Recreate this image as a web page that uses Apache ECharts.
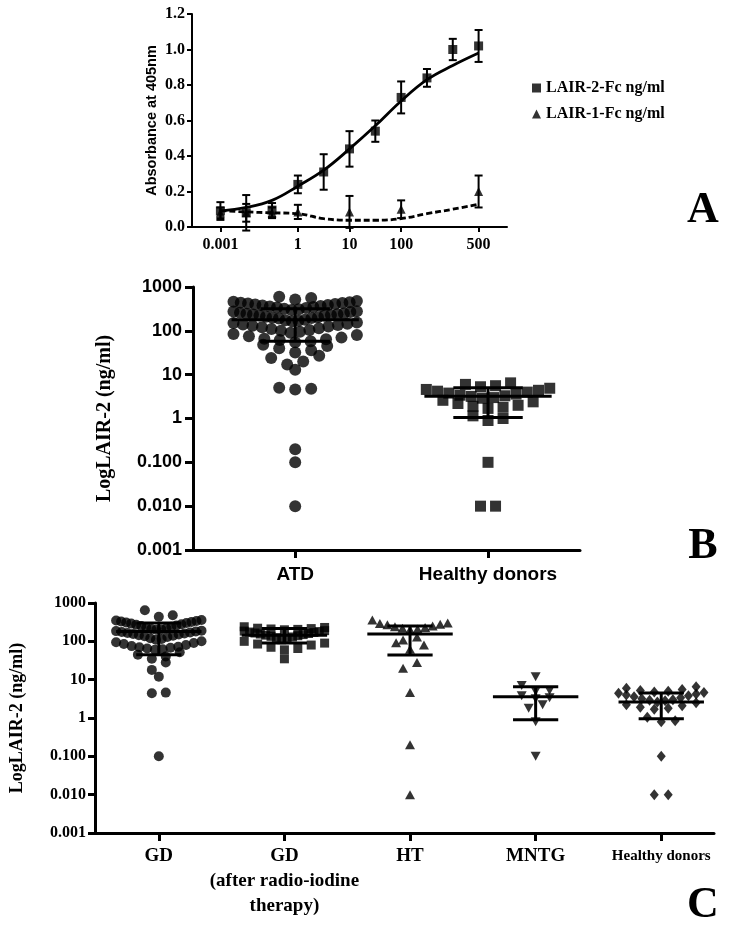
<!DOCTYPE html>
<html><head><meta charset="utf-8">
<script src="https://cdn.jsdelivr.net/npm/echarts@6/dist/echarts.min.js"></script>
<style>html,body{margin:0;padding:0;background:#fff}#c{width:738px;height:929px}</style>
</head><body><div id="c"></div>
<script>
// ---------- Panel A data ----------
const doseTickPos = [0, 3, 5, 7, 10];
const doseTickLabels = ['0.001', '1', '10', '100', '500'];
const lair2Mean = [0.09, 0.08, 0.095, 0.24, 0.31, 0.44, 0.54, 0.73, 0.84, 1.00, 1.02];
const lair2Err  = [0.05, 0.10, 0.04, 0.05, 0.10, 0.10, 0.06, 0.09, 0.05, 0.06, 0.09];
const lair2Fit  = [0.09, 0.11, 0.15, 0.23, 0.32, 0.44, 0.57, 0.71, 0.83, 0.91, 0.98];
const lair1Mean = [0.08, 0.08, 0.08, 0.085, null, 0.085, null, 0.10, null, null, 0.20];
const lair1Err  = [0.03, 0.05, 0.03, 0.04, null, 0.09, null, 0.05, null, null, 0.09];
const lair1Fit  = [0.092, 0.085, 0.08, 0.075, 0.047, 0.038, 0.038, 0.047, 0.075, 0.10, 0.128];
const legendNames = ['LAIR-2-Fc ng/ml', 'LAIR-1-Fc ng/ml'];

// ---------- Panel B data ----------
const logTickLabels = ['0.001', '0.010', '0.100', '1', '10', '100', '1000'];
const bCategories = ['ATD', 'Healthy donors'];
const bATD = [600, 560, 520,
  480, 460, 450, 440, 430, 420, 410, 400, 390, 380, 370, 360, 350, 340, 330, 320, 310, 300,
  280, 275, 270, 260, 250, 245, 240, 235, 230, 225, 220, 210, 205, 200, 195, 190, 180, 175, 170, 165,
  155, 150, 145, 140, 135, 130, 125, 120, 115, 110, 105, 100, 95, 90,
  85, 80, 75, 70, 66, 64, 62, 58, 55,
  48, 45, 40, 36, 32,
  27, 24, 20, 17,
  13, 5.0, 4.8, 4.6, 0.2, 0.1, 0.01];
const bHealthy = [6.5, 6.0, 5.6, 5.3,
  4.9, 4.6, 4.4, 4.2, 4.0, 3.8, 3.6, 3.4, 3.3, 3.2, 3.0, 2.9,
  2.6, 2.4, 2.2, 2.0, 1.9, 1.8, 1.7,
  1.15, 1.0, 0.9, 0.1, 0.01, 0.01];
const bMean  = [180, 3.2];
const bUpper = [320, 5.0];
const bLower = [58, 1.05];

// ---------- Panel C data ----------
const cCategories = ['GD', 'GD\n(after radio-iodine\ntherapy)', 'HT', 'MNTG', 'Healthy donors'];
const cGD = [650, 480, 440,
  360, 350, 340, 330, 320, 310, 300, 290, 280, 270, 260, 250, 240, 230, 220, 210, 205, 200,
  190, 185, 180, 175, 170, 165, 160, 155, 150, 145, 140, 135, 130, 120, 115, 110,
  100, 95, 90, 85, 80, 75, 72, 70, 68, 65, 62, 60,
  52, 45, 40, 35, 28, 18, 12, 4.6, 4.4, 0.1];
const cGDafter = [240, 230, 220, 215, 210, 205, 200,
  190, 185, 180, 175, 170, 165, 160, 155, 150, 145, 140, 135, 130, 125, 120, 110,
  100, 90, 85, 80, 70, 65, 60, 35];
const cHT = [360, 300, 290, 280, 270, 250, 240, 230, 220, 210, 200,
  130, 108, 92, 80, 62, 28, 20, 4.6, 0.2, 0.01];
const cMNTG = [12, 7, 5.2, 5.0, 3.8, 3.4, 3.2, 2.2, 1.8, 0.8, 0.1];
const cHealthy = [6.5, 6.0, 5.5, 5.2, 5.0, 4.8,
  4.6, 4.4, 4.2, 4.0, 3.8, 3.6, 3.4, 3.2, 3.0, 2.9, 2.8, 2.6,
  2.5, 2.2, 2.1, 1.9, 1.8, 1.7, 1.05, 0.85, 0.8, 0.1, 0.01, 0.01];
const cMean  = [180, 145, 155, 3.6, 2.6];
const cUpper = [300, 215, 250, 6.5, 4.5];
const cLower = [45, 90, 44, 0.9, 0.95];

// ---------- helpers ----------
const serif = '"Liberation Serif", "DejaVu Serif", serif';
const sans = '"Liberation Sans", Arial, sans-serif';
const K = '#000';

// Column-scatter layout: values whose log falls in one row band are spread sideways,
// lowest in the middle; spacing shrinks when the row gets too wide.
function swarm(values, center, binDec, binOff, stepMax, halfMax) {
  const bins = {};
  values.forEach(v => {
    const l = Math.log10(v);
    const k = Math.floor((l - binOff) / binDec + 1e-9);
    (bins[k] = bins[k] || []).push(l);
  });
  const out = [];
  Object.keys(bins).forEach(k => {
    const arr = bins[k].sort((a, b) => a - b);
    const n = arr.length;
    const step = n > 1 ? Math.min(stepMax, 2 * halfMax / (n - 1)) : 0;
    arr.forEach((l, i) => {
      let off;
      if (n % 2 === 1) off = i === 0 ? 0 : (i % 2 ? 1 : -1) * Math.ceil(i / 2);
      else off = (i % 2 ? 1 : -1) * (Math.floor(i / 2) + 0.5);
      out.push([center + off * step, l]);
    });
  });
  return out;
}

function seg(api, a, b, lw) {
  const p1 = api.coord(a), p2 = api.coord(b);
  return { type: 'line', shape: { x1: p1[0], y1: p1[1], x2: p2[0], y2: p2[1] }, style: { stroke: K, lineWidth: lw } };
}

function meanSd(ax, means, ups, lows, hwMean, hwCap, lw) {
  return {
    type: 'custom', xAxisIndex: ax, yAxisIndex: ax, z: 5, silent: true,
    data: means.map((m, i) => [i, Math.log10(m), Math.log10(ups[i]), Math.log10(lows[i])]),
    renderItem(p, api) {
      const x = api.value(0), m = api.value(1), u = api.value(2), l = api.value(3);
      return { type: 'group', children: [
        seg(api, [x - hwMean, m], [x + hwMean, m], lw),
        seg(api, [x - hwCap, u], [x + hwCap, u], lw),
        seg(api, [x - hwCap, l], [x + hwCap, l], lw),
        seg(api, [x, u], [x, l], lw)
      ] };
    }
  };
}

function errBars(means, errs) {
  return {
    type: 'custom', xAxisIndex: 0, yAxisIndex: 0, z: 3, silent: true,
    data: means.map((m, i) => m == null ? null : [i, m, errs[i]]).filter(Boolean),
    renderItem(p, api) {
      const x = api.value(0), m = api.value(1), e = api.value(2);
      const t = api.coord([x, m + e]), b = api.coord([x, m - e]);
      const w = 4;
      const L = (x1, y1, x2, y2) => ({ type: 'line', shape: { x1, y1, x2, y2 }, style: { stroke: K, lineWidth: 2 } });
      return { type: 'group', children: [L(t[0], t[1], b[0], b[1]), L(t[0] - w, t[1], t[0] + w, t[1]), L(b[0] - w, b[1], b[0] + w, b[1])] };
    }
  };
}

function logY(gi, labelFamily, labelSize, nameSize, nameGap, lw, margin, tickLen) {
  return {
    type: 'value', gridIndex: gi, min: -3, max: 3, interval: 1,
    name: 'LogLAIR-2 (ng/ml)', nameLocation: 'middle', nameGap: nameGap, nameRotate: 90,
    nameTextStyle: { fontFamily: serif, fontWeight: 'bold', fontSize: nameSize, color: K },
    axisLine: { show: true, onZero: false, lineStyle: { color: K, width: lw } },
    axisTick: { show: true, length: tickLen, lineStyle: { color: K, width: lw } },
    axisLabel: { formatter: v => logTickLabels[Math.round(v) + 3], fontFamily: labelFamily, fontWeight: 'bold', fontSize: labelSize, color: K, margin: margin },
    splitLine: { show: false }
  };
}

const sq = (arr) => arr.map((v, i) => v == null ? null : [i, v]).filter(Boolean);
const invTri = 'path://M0,0 L10,0 L5,9 Z';

const option = {
  backgroundColor: '#fff',
  animation: false,
  grid: [
    { left: 192, right: 231, top: 14, bottom: 702 },
    { left: 193, right: 158, top: 287, bottom: 379 },
    { left: 93, right: 24, top: 603, bottom: 96 }
  ],
  legend: {
    data: legendNames, orient: 'vertical', left: 527, top: 75, itemGap: 10,
    itemWidth: 9, itemHeight: 9,
    textStyle: { fontFamily: serif, fontWeight: 'bold', fontSize: 16, color: K }
  },
  xAxis: [
    {
      type: 'value', gridIndex: 0, min: -1.1, max: 11.1,
      axisLine: { onZero: false, lineStyle: { color: K, width: 2 } },
      axisTick: { customValues: doseTickPos, length: 5, lineStyle: { color: K, width: 2 } },
      axisLabel: { customValues: doseTickPos, formatter: v => doseTickLabels[doseTickPos.indexOf(Math.round(v))],
        fontFamily: serif, fontWeight: 'bold', fontSize: 16, color: K, margin: 10 },
      splitLine: { show: false }
    },
    {
      type: 'value', gridIndex: 1, min: -0.53, max: 1.477,
      axisLine: { onZero: false, lineStyle: { color: K, width: 3 } },
      axisTick: { customValues: [0, 1], length: 8, lineStyle: { color: K, width: 3 } },
      axisLabel: { customValues: [0, 1], formatter: v => bCategories[Math.round(v)],
        fontFamily: sans, fontWeight: 'bold', fontSize: 19, color: K, margin: 15 },
      splitLine: { show: false }
    },
    {
      type: 'value', gridIndex: 2, min: -0.508, max: 4.42,
      axisLine: { onZero: false, lineStyle: { color: K, width: 3 } },
      axisTick: { customValues: [0, 1, 2, 3, 4], length: 8, lineStyle: { color: K, width: 3 } },
      axisLabel: { customValues: [0, 1, 2, 3, 4],
        formatter: v => { const s = cCategories[Math.round(v)]; return s === 'Healthy donors' ? '{s|' + s + '}' : s; },
        fontFamily: serif, fontWeight: 'bold', fontSize: 19, lineHeight: 25, color: K, margin: 11,
        rich: { s: { fontFamily: serif, fontWeight: 'bold', fontSize: 15, lineHeight: 25, color: K } } },
      splitLine: { show: false }
    }
  ],
  yAxis: [
    {
      type: 'value', gridIndex: 0, min: 0, max: 1.2, interval: 0.2,
      name: 'Absorbance at 405nm', nameLocation: 'middle', nameGap: 33, nameRotate: 90,
      nameTextStyle: { fontFamily: sans, fontWeight: 'bold', fontSize: 14.5, color: K },
      axisLine: { show: true, onZero: false, lineStyle: { color: K, width: 2 } },
      axisTick: { show: true, length: 5, lineStyle: { color: K, width: 2 } },
      axisLabel: { formatter: v => v.toFixed(1), fontFamily: serif, fontWeight: 'bold', fontSize: 16, color: K, margin: 7 },
      splitLine: { show: false }
    },
    logY(1, sans, 18, 20, 78, 3, 11, 8),
    logY(2, serif, 16, 18, 69, 3, 9, 7)
  ],
  series: [
    // Panel A
    { type: 'line', xAxisIndex: 0, yAxisIndex: 0, data: sq(lair2Fit), smooth: 0.4, showSymbol: false, silent: true,
      lineStyle: { color: K, width: 2.8 }, z: 2 },
    { type: 'line', xAxisIndex: 0, yAxisIndex: 0, data: sq(lair1Fit), smooth: 0.4, showSymbol: false, silent: true,
      lineStyle: { color: K, width: 2.8, type: [6, 3] }, z: 2 },
    errBars(lair2Mean, lair2Err),
    errBars(lair1Mean, lair1Err),
    { name: legendNames[1], type: 'scatter', xAxisIndex: 0, yAxisIndex: 0, data: sq(lair1Mean), symbol: 'triangle', symbolSize: 9,
      itemStyle: { color: K }, z: 4 },
    { name: legendNames[0], type: 'scatter', xAxisIndex: 0, yAxisIndex: 0, data: sq(lair2Mean), symbol: 'rect', symbolSize: 9,
      itemStyle: { color: K }, z: 4 },
    // Panel B
    { type: 'scatter', xAxisIndex: 1, yAxisIndex: 1, data: swarm(bATD, 0, 0.25, 0.2, 0.083, 0.32), symbol: 'circle', symbolSize: 12, itemStyle: { color: K } },
    { type: 'scatter', xAxisIndex: 1, yAxisIndex: 1, data: swarm(bHealthy, 1, 0.25, 0.2, 0.078, 0.32), symbol: 'rect', symbolSize: 11, itemStyle: { color: K } },
    meanSd(1, bMean, bUpper, bLower, 0.33, 0.18, 3),
    // Panel C
    { type: 'scatter', xAxisIndex: 2, yAxisIndex: 2, data: swarm(cGD, 0, 0.27, 0.13, 0.111, 0.34), symbol: 'circle', symbolSize: 10, itemStyle: { color: K } },
    { type: 'scatter', xAxisIndex: 2, yAxisIndex: 2, data: swarm(cGDafter, 1, 0.27, 0.13, 0.111, 0.32), symbol: 'rect', symbolSize: 9, itemStyle: { color: K } },
    { type: 'scatter', xAxisIndex: 2, yAxisIndex: 2, data: swarm(cHT, 2, 0.27, 0.13, 0.111, 0.3), symbol: 'triangle', symbolSize: [10, 9], itemStyle: { color: K } },
    { type: 'scatter', xAxisIndex: 2, yAxisIndex: 2, data: swarm(cMNTG, 3, 0.27, 0.13, 0.111, 0.34), symbol: invTri, symbolSize: [10, 9], itemStyle: { color: K } },
    { type: 'scatter', xAxisIndex: 2, yAxisIndex: 2, data: swarm(cHealthy, 4, 0.27, 0.13, 0.111, 0.34), symbol: 'diamond', symbolSize: [9, 11], itemStyle: { color: K } },
    meanSd(2, cMean, cUpper, cLower, 0.34, 0.18, 3)
  ],
  graphic: [
    { type: 'text', x: 703, y: 211, style: { text: 'A', font: 'bold 44px ' + serif, fill: K, align: 'center', verticalAlign: 'middle' } },
    { type: 'text', x: 703, y: 547, style: { text: 'B', font: 'bold 44px ' + serif, fill: K, align: 'center', verticalAlign: 'middle' } },
    { type: 'text', x: 703, y: 906, style: { text: 'C', font: 'bold 44px ' + serif, fill: K, align: 'center', verticalAlign: 'middle' } }
  ]
};

const chart = echarts.init(document.getElementById('c'));
chart.setOption(option);
</script>
</body></html>
